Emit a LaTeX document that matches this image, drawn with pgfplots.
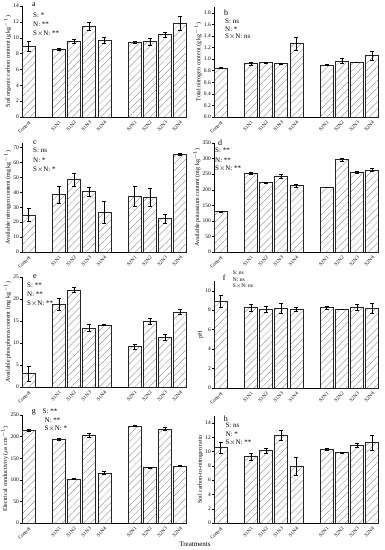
\documentclass[border=0pt]{standalone}
\usepackage{fontspec}
\setmainfont{Liberation Serif}
\usepackage{pgfplots}
\pgfplotsset{compat=1.18}
\usetikzlibrary{patterns.meta}

\pgfplotsset{
 panel/.style={
  scale only axis, width=165pt,
  axis x line*=bottom, axis y line*=left,
  axis line style={line width=0.5pt},
  xmin=-0.43, xmax=10.45, ymin=0,
  xtick={0,2,3,4,5,7,8,9,10},
  xticklabels={Control,S1N1,S1N2,S1N3,S1N4,S2N1,S2N2,S2N3,S2N4},
  x tick label style={rotate=45, anchor=north east, font=\fontsize{5}{6}\selectfont, inner sep=1pt},
  xtick style={draw=none},
  yticklabel style={font=\fontsize{5.5}{6}\selectfont, inner sep=1pt},
  ylabel style={font=\fontsize{6}{7}\selectfont, inner sep=1pt},
  tick align=outside, major tick length=2pt,
  ytick style={line width=0.4pt, black},
  /pgf/number format/assume math mode=true,
  ybar, bar width=0.86,
  anchor=south west,
  clip=false,
 },
 bars/.style={draw=black!85, line width=0.5pt,
   pattern={Lines[angle=45,distance=5pt,line width=0.3pt]}, pattern color=black!50,
   error bars/.cd, y dir=both, y explicit,
   error bar style={line width=0.4pt, black},
   error mark options={rotate=90, mark size=2pt, line width=0.4pt, black}},
}
\newcommand{\ann}{\fontsize{7}{8}\selectfont}
\begin{document}
\begin{tikzpicture}
\path[use as bounding box] (0,0) rectangle (384pt,550pt);

% a
\begin{axis}[panel, at={(22pt,433pt)}, height=111pt, ymax=14, ytick={0,2,...,14},
  ylabel={Soil organic carbon content (g kg$^{-1}$)}]
\addplot[bars] coordinates {(0,8.9)+-(0,0.6) (2,8.55)+-(0,0.15) (3,9.5)+-(0,0.25) (4,11.4)+-(0,0.5) (5,9.7)+-(0,0.4) (7,9.4)+-(0,0.1) (8,9.5)+-(0,0.4) (9,10.4)+-(0,0.3) (10,11.85)+-(0,0.9)};
\end{axis}
% b
\begin{axis}[panel, at={(214pt,433pt)}, height=110pt, ymax=1.9, ytick={0,0.2,...,1.8},
  yticklabel style={/pgf/number format/.cd, fixed, fixed zerofill, precision=1},
  ylabel={Total nitrogen content (g kg$^{-1}$)}]
\addplot[bars] coordinates {(0,0.85)+-(0,0.01) (2,0.92)+-(0,0.02) (3,0.94)+-(0,0.01) (4,0.92)+-(0,0.01) (5,1.27)+-(0,0.11) (7,0.90)+-(0,0.01) (8,0.97)+-(0,0.04) (9,0.95)+-(0,0.0) (10,1.06)+-(0,0.08)};
\end{axis}
% c
\begin{axis}[panel, at={(22pt,298pt)}, height=109pt, ymax=73, ytick={0,10,...,70},
  ylabel={Available nitrogen content (mg kg$^{-1}$)}]
\addplot[bars] coordinates {(0,24.8)+-(0,4.5) (2,38.4)+-(0,6) (3,48.5)+-(0,4.5) (4,40.6)+-(0,3) (5,26.6)+-(0,7.3) (7,37.2)+-(0,6.6) (8,36.6)+-(0,6) (9,22.6)+-(0,3) (10,65.5)+-(0,0.5)};
\end{axis}
% d
\begin{axis}[panel, at={(214pt,298pt)}, height=109pt, ymax=350, ytick={0,50,...,350},
  ylabel={Available potassium content (mg kg$^{-1}$)}]
\addplot[bars] coordinates {(0,130)+-(0,2) (2,254)+-(0,3) (3,223)+-(0,2) (4,243)+-(0,6) (5,213)+-(0,4) (7,207)+-(0,0) (8,297)+-(0,5) (9,257)+-(0,3) (10,264)+-(0,6)};
\end{axis}
% e
\begin{axis}[panel, at={(22pt,163pt)}, height=110pt, ymax=25, ytick={0,5,...,25},
  ylabel={Available phosphorus content (mg kg$^{-1}$)}]
\addplot[bars] coordinates {(0,3.05)+-(0,1.7) (2,18.8)+-(0,1.3) (3,22.1)+-(0,0.6) (4,13.4)+-(0,0.8) (5,14.1)+-(0,0.1) (7,9.2)+-(0,0.5) (8,14.9)+-(0,0.7) (9,11.3)+-(0,0.7) (10,17.1)+-(0,0.6)};
\end{axis}
% f
\begin{axis}[panel, at={(214pt,162pt)}, height=107pt, ymax=11, ytick={0,2,...,10},
  ylabel={pH}]
\addplot[bars] coordinates {(0,8.9)+-(0,0.6) (2,8.26)+-(0,0.4) (3,8.1)+-(0,0.35) (4,8.2)+-(0,0.5) (5,8.1)+-(0,0.25) (7,8.26)+-(0,0.2) (8,8.1)+-(0,0.05) (9,8.3)+-(0,0.3) (10,8.2)+-(0,0.5)};
\end{axis}
% g
\begin{axis}[panel, at={(22pt,27pt)}, height=108pt, ymax=250, ytick={0,50,...,250},
  ylabel={Electrical conductivity ($\mu$s cm$^{-1}$)}]
\addplot[bars] coordinates {(0,215)+-(0,2) (2,193.5)+-(0,2) (3,102)+-(0,1.5) (4,204)+-(0,5) (5,116)+-(0,4) (7,225)+-(0,2) (8,128)+-(0,1) (9,218)+-(0,3) (10,132)+-(0,1)};
\end{axis}
% h
\begin{axis}[panel, at={(214pt,27pt)}, height=107pt, ymax=15, ytick={0,2,...,14},
  ylabel={Soil carbon-to-nitrogen ratio}]
\addplot[bars] coordinates {(0,10.56)+-(0,0.8) (2,9.3)+-(0,0.45) (3,10.14)+-(0,0.3) (4,12.35)+-(0,0.7) (5,8.0)+-(0,1.25) (7,10.4)+-(0,0.15) (8,9.86)+-(0,0.05) (9,10.94)+-(0,0.3) (10,11.27)+-(0,1.0)};
\end{axis}

\begin{scope}[every node/.style={anchor=west, inner sep=0pt, font=\ann}]
% a
\node[font=\fontsize{8}{9}\selectfont] at (32pt,545pt) {a};
\node at (33pt,535pt) {S: *};
\node at (33pt,525.7pt) {N: **};
\node at (33pt,516.7pt) {S$\times$N: **};
% b
\node[font=\fontsize{8}{9}\selectfont] at (224pt,537pt) {b};
\node at (225pt,529pt) {S: ns};
\node at (225pt,521pt) {N: *};
\node at (225pt,513pt) {S$\times$N: ns};
% c
\node[font=\fontsize{8}{9}\selectfont] at (33pt,407.7pt) {c};
\node at (33pt,399.3pt) {S: ns};
\node at (33pt,390pt) {N: *};
\node at (33pt,380.7pt) {S$\times$N: *};
% d
\node[font=\fontsize{8}{9}\selectfont] at (218pt,407.7pt) {d};
\node at (215pt,399.3pt) {S: **};
\node at (215pt,390pt) {N: **};
\node at (215pt,381.7pt) {S$\times$N: **};
% e
\node[font=\fontsize{8}{9}\selectfont] at (33pt,273.3pt) {e};
\node at (27pt,265pt) {S: **};
\node at (27pt,256pt) {N: **};
\node at (27pt,246.7pt) {S$\times$N: **};
% f
\node[font=\fontsize{8}{9}\selectfont] at (222.7pt,272.7pt) {f};
\node[font=\fontsize{5.5}{6}\selectfont] at (232.7pt,277pt) {S: ns};
\node[font=\fontsize{5.5}{6}\selectfont] at (232.7pt,270.5pt) {N: ns};
\node[font=\fontsize{5.5}{6}\selectfont] at (232.7pt,264pt) {S$\times$N: ns};
% g
\node[font=\fontsize{8}{9}\selectfont] at (31.7pt,137.7pt) {g};
\node at (42.5pt,138.3pt) {S: **};
\node at (44.5pt,130pt) {N: **};
\node at (44.5pt,121.7pt) {S$\times$N: *};
% h
\node[font=\fontsize{8}{9}\selectfont] at (223.7pt,131.7pt) {h};
\node at (225.3pt,124.3pt) {S: ns};
\node at (225.3pt,116pt) {N: *};
\node at (225.3pt,107.3pt) {S$\times$N: **};
\end{scope}
\node[font=\fontsize{7}{8}\selectfont, inner sep=0pt] at (195pt,6pt) {Treatments};
\end{tikzpicture}
\end{document}
